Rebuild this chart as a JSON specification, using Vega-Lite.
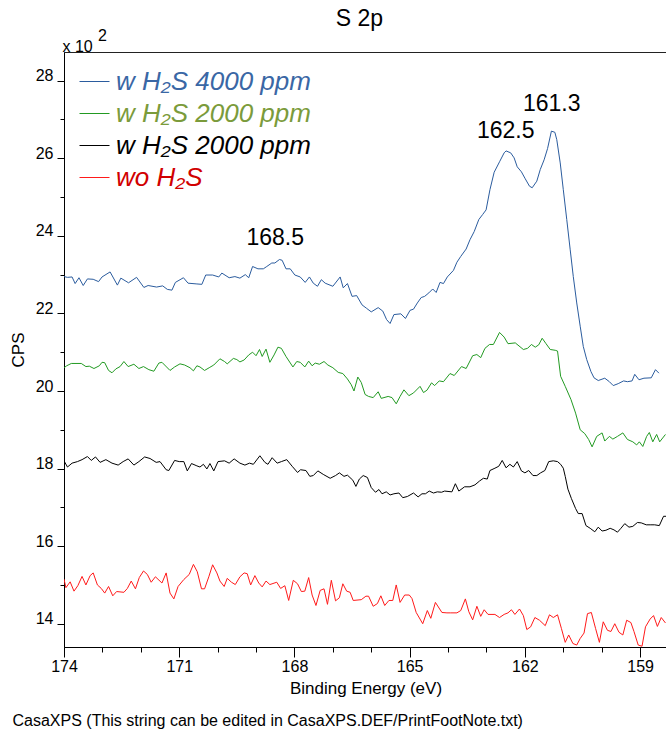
{
  "$schema": "https://vega.github.io/schema/vega-lite/v6.json",
  "width": 603,
  "height": 595,
  "autosize": "none",
  "padding": {"left": 64, "top": 52, "right": 0, "bottom": 88},
  "background": "white",
  "config": {
    "font": "Liberation Sans",
    "view": {"stroke": "#222222", "strokeWidth": 1},
    "axis": {
      "grid": false,
      "domainColor": "#000000",
      "domainWidth": 1,
      "tickColor": "#000000",
      "tickWidth": 1,
      "labelColor": "#000000",
      "titleColor": "#000000",
      "labelFont": "Liberation Sans",
      "titleFont": "Liberation Sans",
      "titleFontWeight": "normal"
    }
  },
  "title": {
    "text": "S 2p",
    "fontSize": 23,
    "fontWeight": "normal",
    "font": "Liberation Sans",
    "color": "#000000",
    "anchor": "middle",
    "frame": "group",
    "offset": 21,
    "dx": -6,
    "dy": 25
  },
  "layer": [
    {
      "data": {
        "values": [
          {"s":"b","e":174.00,"c":22.95},{"s":"b","e":173.91,"c":22.93},{"s":"b","e":173.79,"c":22.94},{"s":"b","e":173.71,"c":22.77},{"s":"b","e":173.61,"c":22.92},{"s":"b","e":173.50,"c":22.72},{"s":"b","e":173.39,"c":22.89},{"s":"b","e":173.24,"c":22.88},{"s":"b","e":173.10,"c":22.82},{"s":"b","e":173.01,"c":22.94},{"s":"b","e":172.80,"c":23.07},{"s":"b","e":172.61,"c":22.73},{"s":"b","e":172.52,"c":22.91},{"s":"b","e":172.32,"c":22.79},{"s":"b","e":172.11,"c":22.93},{"s":"b","e":171.92,"c":22.67},{"s":"b","e":171.81,"c":22.72},{"s":"b","e":171.59,"c":22.68},{"s":"b","e":171.43,"c":22.71},{"s":"b","e":171.31,"c":22.62},{"s":"b","e":171.19,"c":22.60},{"s":"b","e":171.10,"c":22.80},{"s":"b","e":170.89,"c":22.92},{"s":"b","e":170.77,"c":22.78},{"s":"b","e":170.54,"c":22.76},{"s":"b","e":170.41,"c":22.75},{"s":"b","e":170.31,"c":22.99},{"s":"b","e":170.13,"c":22.99},{"s":"b","e":169.97,"c":22.94},{"s":"b","e":169.89,"c":23.04},{"s":"b","e":169.70,"c":22.92},{"s":"b","e":169.55,"c":22.95},{"s":"b","e":169.42,"c":22.91},{"s":"b","e":169.28,"c":23.00},{"s":"b","e":169.19,"c":22.92},{"s":"b","e":169.09,"c":23.21},{"s":"b","e":168.95,"c":23.15},{"s":"b","e":168.81,"c":23.15},{"s":"b","e":168.72,"c":23.21},{"s":"b","e":168.59,"c":23.30},{"s":"b","e":168.51,"c":23.30},{"s":"b","e":168.39,"c":23.39},{"s":"b","e":168.32,"c":23.37},{"s":"b","e":168.22,"c":23.15},{"s":"b","e":168.11,"c":23.15},{"s":"b","e":167.99,"c":22.99},{"s":"b","e":167.85,"c":22.94},{"s":"b","e":167.72,"c":22.80},{"s":"b","e":167.61,"c":22.94},{"s":"b","e":167.51,"c":22.78},{"s":"b","e":167.40,"c":22.70},{"s":"b","e":167.30,"c":22.87},{"s":"b","e":167.20,"c":22.78},{"s":"b","e":167.00,"c":22.70},{"s":"b","e":166.81,"c":22.94},{"s":"b","e":166.73,"c":22.66},{"s":"b","e":166.62,"c":22.77},{"s":"b","e":166.50,"c":22.44},{"s":"b","e":166.38,"c":22.46},{"s":"b","e":166.24,"c":22.22},{"s":"b","e":166.12,"c":22.13},{"s":"b","e":166.00,"c":22.04},{"s":"b","e":165.82,"c":22.15},{"s":"b","e":165.70,"c":22.06},{"s":"b","e":165.60,"c":21.84},{"s":"b","e":165.51,"c":21.74},{"s":"b","e":165.41,"c":21.97},{"s":"b","e":165.23,"c":21.99},{"s":"b","e":165.11,"c":21.87},{"s":"b","e":164.99,"c":22.08},{"s":"b","e":164.90,"c":22.11},{"s":"b","e":164.80,"c":22.27},{"s":"b","e":164.70,"c":22.41},{"s":"b","e":164.61,"c":22.44},{"s":"b","e":164.50,"c":22.53},{"s":"b","e":164.40,"c":22.63},{"s":"b","e":164.31,"c":22.54},{"s":"b","e":164.21,"c":22.80},{"s":"b","e":164.12,"c":22.77},{"s":"b","e":164.02,"c":22.94},{"s":"b","e":163.86,"c":23.11},{"s":"b","e":163.77,"c":23.32},{"s":"b","e":163.67,"c":23.47},{"s":"b","e":163.53,"c":23.66},{"s":"b","e":163.43,"c":23.90},{"s":"b","e":163.32,"c":24.11},{"s":"b","e":163.20,"c":24.42},{"s":"b","e":163.10,"c":24.55},{"s":"b","e":163.01,"c":24.67},{"s":"b","e":162.91,"c":25.19},{"s":"b","e":162.80,"c":25.64},{"s":"b","e":162.66,"c":25.91},{"s":"b","e":162.54,"c":26.14},{"s":"b","e":162.49,"c":26.19},{"s":"b","e":162.37,"c":26.14},{"s":"b","e":162.28,"c":26.01},{"s":"b","e":162.20,"c":25.78},{"s":"b","e":162.09,"c":25.65},{"s":"b","e":161.99,"c":25.47},{"s":"b","e":161.88,"c":25.28},{"s":"b","e":161.81,"c":25.24},{"s":"b","e":161.69,"c":25.41},{"s":"b","e":161.60,"c":25.71},{"s":"b","e":161.50,"c":25.96},{"s":"b","e":161.41,"c":26.25},{"s":"b","e":161.31,"c":26.70},{"s":"b","e":161.22,"c":26.67},{"s":"b","e":161.17,"c":26.48},{"s":"b","e":161.08,"c":25.88},{"s":"b","e":161.00,"c":25.19},{"s":"b","e":160.91,"c":24.42},{"s":"b","e":160.82,"c":23.64},{"s":"b","e":160.74,"c":22.95},{"s":"b","e":160.65,"c":22.27},{"s":"b","e":160.56,"c":21.67},{"s":"b","e":160.48,"c":21.15},{"s":"b","e":160.39,"c":20.81},{"s":"b","e":160.28,"c":20.50},{"s":"b","e":160.20,"c":20.34},{"s":"b","e":160.09,"c":20.27},{"s":"b","e":159.92,"c":20.33},{"s":"b","e":159.80,"c":20.24},{"s":"b","e":159.70,"c":20.14},{"s":"b","e":159.57,"c":20.19},{"s":"b","e":159.43,"c":20.26},{"s":"b","e":159.33,"c":20.24},{"s":"b","e":159.21,"c":20.26},{"s":"b","e":159.14,"c":20.43},{"s":"b","e":159.03,"c":20.29},{"s":"b","e":158.90,"c":20.33},{"s":"b","e":158.71,"c":20.34},{"s":"b","e":158.60,"c":20.55},{"s":"b","e":158.51,"c":20.46},

          {"s":"g","e":174.00,"c":20.60},{"s":"g","e":173.93,"c":20.65},{"s":"g","e":173.81,"c":20.71},{"s":"g","e":173.55,"c":20.71},{"s":"g","e":173.43,"c":20.63},{"s":"g","e":173.34,"c":20.64},{"s":"g","e":173.22,"c":20.58},{"s":"g","e":173.08,"c":20.65},{"s":"g","e":173.01,"c":20.74},{"s":"g","e":172.94,"c":20.73},{"s":"g","e":172.84,"c":20.53},{"s":"g","e":172.75,"c":20.47},{"s":"g","e":172.65,"c":20.57},{"s":"g","e":172.54,"c":20.63},{"s":"g","e":172.44,"c":20.76},{"s":"g","e":172.33,"c":20.63},{"s":"g","e":172.18,"c":20.69},{"s":"g","e":172.05,"c":20.58},{"s":"g","e":171.93,"c":20.63},{"s":"g","e":171.79,"c":20.55},{"s":"g","e":171.66,"c":20.51},{"s":"g","e":171.53,"c":20.72},{"s":"g","e":171.45,"c":20.74},{"s":"g","e":171.33,"c":20.62},{"s":"g","e":171.24,"c":20.53},{"s":"g","e":171.12,"c":20.62},{"s":"g","e":170.98,"c":20.70},{"s":"g","e":170.86,"c":20.67},{"s":"g","e":170.72,"c":20.60},{"s":"g","e":170.63,"c":20.52},{"s":"g","e":170.54,"c":20.65},{"s":"g","e":170.46,"c":20.62},{"s":"g","e":170.34,"c":20.53},{"s":"g","e":170.22,"c":20.60},{"s":"g","e":170.10,"c":20.67},{"s":"g","e":169.94,"c":20.83},{"s":"g","e":169.82,"c":20.76},{"s":"g","e":169.75,"c":20.70},{"s":"g","e":169.59,"c":20.84},{"s":"g","e":169.50,"c":20.81},{"s":"g","e":169.42,"c":20.75},{"s":"g","e":169.31,"c":20.80},{"s":"g","e":169.19,"c":20.93},{"s":"g","e":169.09,"c":21.00},{"s":"g","e":169.00,"c":20.91},{"s":"g","e":168.91,"c":21.07},{"s":"g","e":168.84,"c":20.89},{"s":"g","e":168.74,"c":21.08},{"s":"g","e":168.64,"c":20.74},{"s":"g","e":168.53,"c":20.93},{"s":"g","e":168.43,"c":21.13},{"s":"g","e":168.34,"c":21.10},{"s":"g","e":168.22,"c":20.89},{"s":"g","e":168.04,"c":20.62},{"s":"g","e":167.94,"c":20.76},{"s":"g","e":167.85,"c":20.74},{"s":"g","e":167.73,"c":20.62},{"s":"g","e":167.63,"c":20.77},{"s":"g","e":167.54,"c":20.65},{"s":"g","e":167.46,"c":20.72},{"s":"g","e":167.35,"c":20.69},{"s":"g","e":167.23,"c":20.76},{"s":"g","e":167.13,"c":20.67},{"s":"g","e":167.00,"c":20.60},{"s":"g","e":166.86,"c":20.48},{"s":"g","e":166.74,"c":20.45},{"s":"g","e":166.62,"c":20.31},{"s":"g","e":166.52,"c":20.16},{"s":"g","e":166.45,"c":20.00},{"s":"g","e":166.35,"c":20.36},{"s":"g","e":166.26,"c":20.22},{"s":"g","e":166.16,"c":19.91},{"s":"g","e":166.07,"c":19.86},{"s":"g","e":165.95,"c":19.83},{"s":"g","e":165.82,"c":19.98},{"s":"g","e":165.74,"c":19.81},{"s":"g","e":165.56,"c":19.86},{"s":"g","e":165.46,"c":19.83},{"s":"g","e":165.35,"c":19.67},{"s":"g","e":165.25,"c":19.86},{"s":"g","e":165.15,"c":20.03},{"s":"g","e":165.02,"c":19.88},{"s":"g","e":164.90,"c":19.95},{"s":"g","e":164.73,"c":20.12},{"s":"g","e":164.64,"c":19.96},{"s":"g","e":164.55,"c":20.02},{"s":"g","e":164.43,"c":20.21},{"s":"g","e":164.35,"c":20.14},{"s":"g","e":164.23,"c":20.26},{"s":"g","e":164.12,"c":20.24},{"s":"g","e":163.95,"c":20.45},{"s":"g","e":163.84,"c":20.40},{"s":"g","e":163.65,"c":20.63},{"s":"g","e":163.53,"c":20.58},{"s":"g","e":163.36,"c":20.91},{"s":"g","e":163.25,"c":20.94},{"s":"g","e":163.15,"c":20.86},{"s":"g","e":163.04,"c":21.10},{"s":"g","e":162.92,"c":21.20},{"s":"g","e":162.82,"c":21.20},{"s":"g","e":162.66,"c":21.51},{"s":"g","e":162.54,"c":21.39},{"s":"g","e":162.44,"c":21.22},{"s":"g","e":162.25,"c":21.24},{"s":"g","e":162.04,"c":21.07},{"s":"g","e":161.93,"c":21.10},{"s":"g","e":161.83,"c":21.20},{"s":"g","e":161.73,"c":21.13},{"s":"g","e":161.64,"c":21.19},{"s":"g","e":161.55,"c":21.36},{"s":"g","e":161.45,"c":21.22},{"s":"g","e":161.34,"c":21.07},{"s":"g","e":161.21,"c":21.05},{"s":"g","e":161.15,"c":21.03},{"s":"g","e":161.07,"c":20.38},{"s":"g","e":160.95,"c":20.12},{"s":"g","e":160.80,"c":19.78},{"s":"g","e":160.68,"c":19.43},{"s":"g","e":160.56,"c":19.00},{"s":"g","e":160.44,"c":18.90},{"s":"g","e":160.34,"c":18.75},{"s":"g","e":160.25,"c":18.56},{"s":"g","e":160.13,"c":18.83},{"s":"g","e":159.99,"c":18.92},{"s":"g","e":159.92,"c":18.71},{"s":"g","e":159.80,"c":18.83},{"s":"g","e":159.71,"c":18.76},{"s":"g","e":159.59,"c":18.83},{"s":"g","e":159.45,"c":18.92},{"s":"g","e":159.33,"c":18.75},{"s":"g","e":159.19,"c":18.69},{"s":"g","e":159.09,"c":18.61},{"s":"g","e":159.02,"c":18.69},{"s":"g","e":158.93,"c":18.57},{"s":"g","e":158.83,"c":18.83},{"s":"g","e":158.76,"c":18.93},{"s":"g","e":158.67,"c":18.69},{"s":"g","e":158.57,"c":18.88},{"s":"g","e":158.49,"c":18.69},{"s":"g","e":158.34,"c":18.88},

          {"s":"k","e":174.00,"c":18.20},{"s":"k","e":173.91,"c":18.04},{"s":"k","e":173.79,"c":18.14},{"s":"k","e":173.65,"c":18.18},{"s":"k","e":173.53,"c":18.23},{"s":"k","e":173.39,"c":18.31},{"s":"k","e":173.29,"c":18.21},{"s":"k","e":173.18,"c":18.30},{"s":"k","e":173.06,"c":18.16},{"s":"k","e":172.91,"c":18.23},{"s":"k","e":172.75,"c":18.14},{"s":"k","e":172.59,"c":18.09},{"s":"k","e":172.46,"c":18.18},{"s":"k","e":172.33,"c":18.25},{"s":"k","e":172.18,"c":18.09},{"s":"k","e":172.05,"c":18.18},{"s":"k","e":171.90,"c":18.30},{"s":"k","e":171.76,"c":18.26},{"s":"k","e":171.60,"c":18.16},{"s":"k","e":171.50,"c":18.18},{"s":"k","e":171.34,"c":17.97},{"s":"k","e":171.27,"c":17.95},{"s":"k","e":171.12,"c":18.21},{"s":"k","e":171.00,"c":18.18},{"s":"k","e":170.88,"c":18.18},{"s":"k","e":170.79,"c":17.94},{"s":"k","e":170.68,"c":18.13},{"s":"k","e":170.54,"c":18.07},{"s":"k","e":170.46,"c":18.04},{"s":"k","e":170.37,"c":18.11},{"s":"k","e":170.28,"c":17.99},{"s":"k","e":170.20,"c":18.13},{"s":"k","e":170.10,"c":17.94},{"s":"k","e":169.99,"c":18.18},{"s":"k","e":169.82,"c":18.20},{"s":"k","e":169.70,"c":18.14},{"s":"k","e":169.57,"c":18.25},{"s":"k","e":169.42,"c":18.14},{"s":"k","e":169.29,"c":18.09},{"s":"k","e":169.17,"c":18.14},{"s":"k","e":169.07,"c":18.11},{"s":"k","e":168.90,"c":18.33},{"s":"k","e":168.77,"c":18.16},{"s":"k","e":168.69,"c":18.11},{"s":"k","e":168.58,"c":18.28},{"s":"k","e":168.45,"c":18.14},{"s":"k","e":168.34,"c":18.18},{"s":"k","e":168.20,"c":18.23},{"s":"k","e":168.06,"c":18.06},{"s":"k","e":167.92,"c":17.90},{"s":"k","e":167.84,"c":17.97},{"s":"k","e":167.70,"c":17.95},{"s":"k","e":167.60,"c":17.80},{"s":"k","e":167.51,"c":17.82},{"s":"k","e":167.39,"c":17.94},{"s":"k","e":167.25,"c":17.85},{"s":"k","e":167.07,"c":17.75},{"s":"k","e":166.93,"c":17.82},{"s":"k","e":166.83,"c":17.89},{"s":"k","e":166.71,"c":17.80},{"s":"k","e":166.62,"c":17.83},{"s":"k","e":166.48,"c":17.70},{"s":"k","e":166.40,"c":17.54},{"s":"k","e":166.31,"c":17.73},{"s":"k","e":166.21,"c":17.82},{"s":"k","e":166.10,"c":17.77},{"s":"k","e":166.00,"c":17.51},{"s":"k","e":165.89,"c":17.39},{"s":"k","e":165.80,"c":17.46},{"s":"k","e":165.72,"c":17.35},{"s":"k","e":165.61,"c":17.40},{"s":"k","e":165.51,"c":17.32},{"s":"k","e":165.41,"c":17.35},{"s":"k","e":165.28,"c":17.37},{"s":"k","e":165.18,"c":17.25},{"s":"k","e":165.06,"c":17.28},{"s":"k","e":164.90,"c":17.37},{"s":"k","e":164.78,"c":17.27},{"s":"k","e":164.68,"c":17.35},{"s":"k","e":164.59,"c":17.35},{"s":"k","e":164.49,"c":17.42},{"s":"k","e":164.38,"c":17.37},{"s":"k","e":164.28,"c":17.40},{"s":"k","e":164.17,"c":17.39},{"s":"k","e":164.09,"c":17.42},{"s":"k","e":163.90,"c":17.40},{"s":"k","e":163.81,"c":17.61},{"s":"k","e":163.72,"c":17.42},{"s":"k","e":163.57,"c":17.53},{"s":"k","e":163.43,"c":17.53},{"s":"k","e":163.30,"c":17.58},{"s":"k","e":163.18,"c":17.68},{"s":"k","e":163.08,"c":17.75},{"s":"k","e":162.98,"c":17.73},{"s":"k","e":162.91,"c":17.95},{"s":"k","e":162.78,"c":18.01},{"s":"k","e":162.68,"c":18.06},{"s":"k","e":162.59,"c":18.21},{"s":"k","e":162.49,"c":18.02},{"s":"k","e":162.39,"c":18.11},{"s":"k","e":162.30,"c":18.04},{"s":"k","e":162.20,"c":18.18},{"s":"k","e":162.09,"c":17.94},{"s":"k","e":162.00,"c":17.89},{"s":"k","e":161.90,"c":17.95},{"s":"k","e":161.79,"c":17.82},{"s":"k","e":161.69,"c":17.82},{"s":"k","e":161.59,"c":17.89},{"s":"k","e":161.48,"c":17.95},{"s":"k","e":161.38,"c":18.18},{"s":"k","e":161.26,"c":18.20},{"s":"k","e":161.15,"c":18.18},{"s":"k","e":161.07,"c":18.11},{"s":"k","e":161.00,"c":18.01},{"s":"k","e":160.95,"c":17.80},{"s":"k","e":160.88,"c":17.47},{"s":"k","e":160.79,"c":17.23},{"s":"k","e":160.68,"c":16.97},{"s":"k","e":160.61,"c":16.84},{"s":"k","e":160.51,"c":16.84},{"s":"k","e":160.41,"c":16.53},{"s":"k","e":160.30,"c":16.46},{"s":"k","e":160.18,"c":16.37},{"s":"k","e":160.09,"c":16.49},{"s":"k","e":159.99,"c":16.39},{"s":"k","e":159.89,"c":16.41},{"s":"k","e":159.78,"c":16.46},{"s":"k","e":159.68,"c":16.42},{"s":"k","e":159.59,"c":16.36},{"s":"k","e":159.50,"c":16.46},{"s":"k","e":159.40,"c":16.58},{"s":"k","e":159.29,"c":16.49},{"s":"k","e":159.19,"c":16.51},{"s":"k","e":159.07,"c":16.61},{"s":"k","e":158.97,"c":16.60},{"s":"k","e":158.84,"c":16.55},{"s":"k","e":158.72,"c":16.55},{"s":"k","e":158.62,"c":16.55},{"s":"k","e":158.50,"c":16.53},{"s":"k","e":158.39,"c":16.77},{"s":"k","e":158.32,"c":16.77},

          {"s":"r","e":174.00,"c":15.15},{"s":"r","e":173.95,"c":14.93},{"s":"r","e":173.84,"c":15.08},{"s":"r","e":173.74,"c":14.84},{"s":"r","e":173.64,"c":14.98},{"s":"r","e":173.53,"c":15.22},{"s":"r","e":173.43,"c":15.00},{"s":"r","e":173.32,"c":15.24},{"s":"r","e":173.24,"c":15.31},{"s":"r","e":173.13,"c":15.00},{"s":"r","e":173.03,"c":14.91},{"s":"r","e":172.94,"c":14.79},{"s":"r","e":172.84,"c":14.96},{"s":"r","e":172.73,"c":14.72},{"s":"r","e":172.63,"c":14.83},{"s":"r","e":172.44,"c":14.81},{"s":"r","e":172.35,"c":14.91},{"s":"r","e":172.25,"c":15.10},{"s":"r","e":172.14,"c":14.90},{"s":"r","e":172.04,"c":15.19},{"s":"r","e":171.93,"c":15.36},{"s":"r","e":171.83,"c":15.27},{"s":"r","e":171.73,"c":15.07},{"s":"r","e":171.62,"c":15.21},{"s":"r","e":171.45,"c":15.05},{"s":"r","e":171.34,"c":15.31},{"s":"r","e":171.24,"c":14.79},{"s":"r","e":171.14,"c":14.64},{"s":"r","e":171.03,"c":14.96},{"s":"r","e":170.88,"c":15.14},{"s":"r","e":170.74,"c":15.27},{"s":"r","e":170.63,"c":15.53},{"s":"r","e":170.53,"c":15.34},{"s":"r","e":170.42,"c":14.90},{"s":"r","e":170.34,"c":14.90},{"s":"r","e":170.23,"c":15.21},{"s":"r","e":170.13,"c":15.52},{"s":"r","e":170.02,"c":15.31},{"s":"r","e":169.94,"c":15.10},{"s":"r","e":169.83,"c":14.96},{"s":"r","e":169.75,"c":15.17},{"s":"r","e":169.64,"c":15.07},{"s":"r","e":169.54,"c":15.01},{"s":"r","e":169.42,"c":15.21},{"s":"r","e":169.31,"c":15.31},{"s":"r","e":169.23,"c":15.29},{"s":"r","e":169.14,"c":15.00},{"s":"r","e":169.03,"c":15.24},{"s":"r","e":168.93,"c":15.05},{"s":"r","e":168.84,"c":14.95},{"s":"r","e":168.74,"c":15.10},{"s":"r","e":168.64,"c":15.01},{"s":"r","e":168.46,"c":15.07},{"s":"r","e":168.36,"c":14.91},{"s":"r","e":168.25,"c":14.98},{"s":"r","e":168.15,"c":14.60},{"s":"r","e":168.03,"c":15.12},{"s":"r","e":167.92,"c":15.03},{"s":"r","e":167.82,"c":14.83},{"s":"r","e":167.73,"c":14.84},{"s":"r","e":167.63,"c":15.19},{"s":"r","e":167.54,"c":14.74},{"s":"r","e":167.44,"c":14.47},{"s":"r","e":167.33,"c":14.86},{"s":"r","e":167.23,"c":14.90},{"s":"r","e":167.14,"c":14.50},{"s":"r","e":167.04,"c":15.12},{"s":"r","e":166.93,"c":14.59},{"s":"r","e":166.83,"c":14.67},{"s":"r","e":166.74,"c":15.03},{"s":"r","e":166.64,"c":14.84},{"s":"r","e":166.55,"c":14.81},{"s":"r","e":166.47,"c":14.60},{"s":"r","e":166.26,"c":14.62},{"s":"r","e":166.14,"c":14.71},{"s":"r","e":166.07,"c":14.71},{"s":"r","e":165.95,"c":14.45},{"s":"r","e":165.84,"c":14.52},{"s":"r","e":165.75,"c":14.72},{"s":"r","e":165.65,"c":14.47},{"s":"r","e":165.54,"c":14.60},{"s":"r","e":165.44,"c":14.60},{"s":"r","e":165.35,"c":15.00},{"s":"r","e":165.25,"c":14.55},{"s":"r","e":165.13,"c":14.74},{"s":"r","e":165.01,"c":14.74},{"s":"r","e":164.94,"c":14.65},{"s":"r","e":164.83,"c":14.29},{"s":"r","e":164.66,"c":14.00},{"s":"r","e":164.54,"c":14.34},{"s":"r","e":164.45,"c":14.14},{"s":"r","e":164.33,"c":14.55},{"s":"r","e":164.16,"c":14.29},{"s":"r","e":164.03,"c":14.28},{"s":"r","e":163.93,"c":14.28},{"s":"r","e":163.77,"c":14.28},{"s":"r","e":163.67,"c":14.34},{"s":"r","e":163.55,"c":14.64},{"s":"r","e":163.46,"c":14.31},{"s":"r","e":163.36,"c":14.10},{"s":"r","e":163.25,"c":14.45},{"s":"r","e":163.15,"c":14.19},{"s":"r","e":163.06,"c":14.36},{"s":"r","e":162.96,"c":14.24},{"s":"r","e":162.78,"c":14.24},{"s":"r","e":162.66,"c":14.16},{"s":"r","e":162.54,"c":14.24},{"s":"r","e":162.44,"c":14.28},{"s":"r","e":162.35,"c":14.36},{"s":"r","e":162.26,"c":14.24},{"s":"r","e":162.14,"c":14.38},{"s":"r","e":162.04,"c":14.21},{"s":"r","e":161.95,"c":13.85},{"s":"r","e":161.85,"c":13.92},{"s":"r","e":161.74,"c":14.16},{"s":"r","e":161.62,"c":14.09},{"s":"r","e":161.47,"c":13.95},{"s":"r","e":161.36,"c":14.23},{"s":"r","e":161.26,"c":14.16},{"s":"r","e":161.15,"c":14.23},{"s":"r","e":161.05,"c":13.88},{"s":"r","e":160.95,"c":13.52},{"s":"r","e":160.86,"c":13.71},{"s":"r","e":160.75,"c":13.49},{"s":"r","e":160.65,"c":13.45},{"s":"r","e":160.56,"c":13.62},{"s":"r","e":160.46,"c":13.76},{"s":"r","e":160.37,"c":14.26},{"s":"r","e":160.27,"c":14.29},{"s":"r","e":160.16,"c":13.88},{"s":"r","e":160.06,"c":13.52},{"s":"r","e":159.96,"c":14.05},{"s":"r","e":159.85,"c":13.83},{"s":"r","e":159.76,"c":13.80},{"s":"r","e":159.66,"c":14.00},{"s":"r","e":159.55,"c":13.78},{"s":"r","e":159.45,"c":13.71},{"s":"r","e":159.35,"c":14.09},{"s":"r","e":159.24,"c":14.03},{"s":"r","e":159.16,"c":13.80},{"s":"r","e":159.05,"c":13.45},{"s":"r","e":158.95,"c":13.42},{"s":"r","e":158.86,"c":13.92},{"s":"r","e":158.74,"c":14.12},{"s":"r","e":158.65,"c":14.21},{"s":"r","e":158.55,"c":13.93},{"s":"r","e":158.45,"c":14.16},{"s":"r","e":158.34,"c":14.02}
        ]
      },
      "mark": {"type": "line", "strokeWidth": 1, "clip": true},
      "encoding": {
        "x": {
          "field": "e",
          "type": "quantitative",
          "scale": {"domain": [158.3, 174], "reverse": true, "zero": false, "nice": false},
          "axis": {
            "orient": "bottom",
            "values": [174, 171, 168, 165, 162, 159],
            "title": "Binding Energy (eV)",
            "titleFontSize": 17,
            "titlePadding": 6,
            "labelFontSize": 16,
            "labelFlush": false,
            "labelOverlap": false,
            "tickSize": 10,
            "labelPadding": 1
          }
        },
        "y": {
          "field": "c",
          "type": "quantitative",
          "scale": {"domain": [13.4, 28.74], "zero": false, "nice": false},
          "axis": {
            "orient": "left",
            "values": [14, 16, 18, 20, 22, 24, 26, 28],
            "title": "CPS",
            "titleFontSize": 17,
            "titlePadding": 8,
            "labelFontSize": 16,
            "labelBaseline": "alphabetic",
            "labelFlush": false,
            "labelOverlap": false,
            "tickSize": 7,
            "labelPadding": 4
          }
        },
        "color": {
          "field": "s",
          "type": "nominal",
          "scale": {"domain": ["b", "g", "k", "r"], "range": ["#2b5c9e", "#229a22", "#000000", "#ff1a1a"]},
          "legend": {
            "orient": "none",
            "legendX": 15,
            "legendY": 14,
            "title": null,
            "padding": 0,
            "symbolType": "stroke",
            "symbolSize": 900,
            "symbolStrokeWidth": 1,
            "symbolStrokeColor": {"expr": "datum.value == 'b' ? '#3a67a5' : datum.value == 'g' ? '#7b9b3b' : datum.value == 'k' ? '#000000' : '#d10000'"},
            "labelColor": {"expr": "datum.value == 'b' ? '#3a67a5' : datum.value == 'g' ? '#7b9b3b' : datum.value == 'k' ? '#000000' : '#d10000'"},
            "labelExpr": "datum.value == 'b' ? 'w H₂S 4000 ppm' : datum.value == 'r' ? 'wo H₂S' : 'w H₂S 2000 ppm'",
            "labelFont": "Liberation Sans",
            "labelFontSize": 26,
            "labelFontStyle": "italic",
            "labelOffset": 6,
            "labelLimit": 400,
            "rowPadding": 3
          }
        }
      }
    },
    {
      "data": {
        "values": [
          {"t": "168.5", "e": 168.5, "c": 23.77},
          {"t": "162.5", "e": 162.5, "c": 26.52},
          {"t": "161.3", "e": 161.3, "c": 27.23}
        ]
      },
      "mark": {"type": "text", "fontSize": 23, "align": "center", "baseline": "alphabetic", "color": "#000000"},
      "encoding": {
        "text": {"field": "t"},
        "x": {
          "field": "e",
          "type": "quantitative",
          "axis": {
            "orient": "bottom",
            "values": [173, 172, 170, 169, 167, 166, 164, 163, 161, 160],
            "labels": false,
            "domain": false,
            "tickSize": 5,
            "title": "CasaXPS (This string can be edited in CasaXPS.DEF/PrintFootNote.txt)",
            "titleFontSize": 16,
            "titleAngle": 0,
            "titleAlign": "left",
            "titleBaseline": "alphabetic",
            "titleX": -52,
            "titleY": 78
          }
        },
        "y": {
          "field": "c",
          "type": "quantitative",
          "axis": {
            "orient": "left",
            "values": [15, 17, 19, 21, 23, 25, 27],
            "labels": false,
            "domain": false,
            "tickSize": 4,
            "title": ["\u200b\u00a0\u00a0\u00a0\u00a0\u00a0\u00a0\u00a0\u00a02", "x 10"],
            "titleFontSize": 16,
            "titleLineHeight": 11,
            "titleAngle": 0,
            "titleAlign": "left",
            "titleBaseline": "alphabetic",
            "titleX": -2,
            "titleY": -12
          }
        }
      }
    }
  ],
  "resolve": {"axis": {"x": "independent", "y": "independent"}}
}
